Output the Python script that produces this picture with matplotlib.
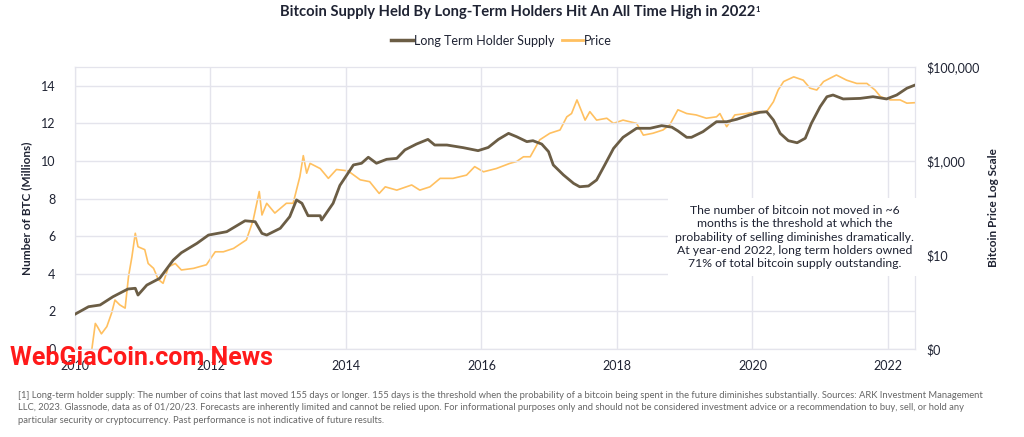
import numpy as np
import matplotlib.pyplot as plt
from matplotlib.ticker import FixedLocator

plt.rcParams['font.family'] = ['Lato', 'DejaVu Sans']

# long term holder supply (millions of BTC)
lth_year = [2010.0, 2010.2, 2010.37, 2010.56, 2010.78, 2010.89, 2010.93, 2011.06, 2011.25,
            2011.45, 2011.57, 2011.8, 2011.97, 2012.24, 2012.51, 2012.66, 2012.76, 2012.83,
            2013.03, 2013.17, 2013.27, 2013.35, 2013.44, 2013.62, 2013.64, 2013.81, 2013.91,
            2014.03, 2014.11, 2014.23, 2014.33, 2014.45, 2014.6, 2014.75, 2014.87, 2015.04,
            2015.21, 2015.31, 2015.49, 2015.73, 2015.95, 2016.1, 2016.25, 2016.4, 2016.52,
            2016.67, 2016.76, 2016.89, 2016.99, 2017.06, 2017.21, 2017.36, 2017.45, 2017.58,
            2017.7, 2017.82, 2017.95, 2018.09, 2018.29, 2018.49, 2018.66, 2018.81, 2018.9,
            2019.03, 2019.1, 2019.27, 2019.47, 2019.62, 2019.77, 2019.96, 2020.11, 2020.21,
            2020.31, 2020.41, 2020.53, 2020.66, 2020.78, 2020.87, 2021.0, 2021.1, 2021.19,
            2021.34, 2021.59, 2021.78, 2021.98, 2022.13, 2022.28, 2022.4]
lth_supply = [1.85, 2.25, 2.34, 2.78, 3.19, 3.23, 2.87, 3.4, 3.76,
              4.73, 5.12, 5.62, 6.06, 6.24, 6.82, 6.77, 6.15, 6.06,
              6.42, 7.04, 7.93, 7.75, 7.09, 7.09, 6.86, 7.75, 8.7,
              9.35, 9.79, 9.88, 10.2, 9.88, 10.09, 10.14, 10.59, 10.9,
              11.15, 10.85, 10.85, 10.71, 10.55, 10.72, 11.15, 11.47, 11.29,
              11.03, 11.08, 10.9, 10.5, 9.79, 9.26, 8.81, 8.63, 8.67,
              8.99, 9.79, 10.67, 11.26, 11.74, 11.74, 11.88, 11.8, 11.6,
              11.26, 11.26, 11.56, 12.09, 12.09, 12.22, 12.45, 12.59, 12.62,
              12.18, 11.47, 11.08, 10.97, 11.21, 12.0, 12.89, 13.42, 13.51,
              13.3, 13.33, 13.42, 13.3, 13.51, 13.87, 14.04]

# bitcoin price (USD, log axis)
price_year = [2010.24, 2010.3, 2010.33, 2010.39, 2010.47, 2010.54, 2010.59, 2010.66, 2010.74,
              2010.79, 2010.84, 2010.89, 2010.93, 2011.03, 2011.08, 2011.16, 2011.23, 2011.3,
              2011.38, 2011.48, 2011.57, 2011.75, 2011.94, 2012.07, 2012.19, 2012.34, 2012.53,
              2012.63, 2012.72, 2012.76, 2012.83, 2012.95, 2013.12, 2013.22, 2013.32, 2013.37,
              2013.42, 2013.47, 2013.62, 2013.74, 2013.86, 2014.03, 2014.21, 2014.35, 2014.49,
              2014.58, 2014.75, 2014.97, 2015.09, 2015.24, 2015.39, 2015.58, 2015.78, 2015.9,
              2016.03, 2016.22, 2016.42, 2016.52, 2016.62, 2016.72, 2016.86, 2017.01, 2017.16,
              2017.26, 2017.33, 2017.41, 2017.48, 2017.53, 2017.6, 2017.7, 2017.85, 2017.95,
              2018.09, 2018.29, 2018.39, 2018.53, 2018.68, 2018.78, 2018.9, 2019.03, 2019.17,
              2019.32, 2019.47, 2019.52, 2019.62, 2019.74, 2019.91, 2020.06, 2020.21, 2020.31,
              2020.38, 2020.46, 2020.61, 2020.75, 2020.85, 2020.95, 2021.05, 2021.24, 2021.39,
              2021.54, 2021.69, 2021.81, 2021.89, 2022.03, 2022.18, 2022.28, 2022.4]
price_usd = [0.08, 0.35, 0.3, 0.21, 0.3, 0.58, 1.1, 0.87, 0.74,
             3.5, 9.1, 29, 15, 13, 6.6, 5.2, 3.0, 2.5,
             5.6, 6.6, 4.8, 5.2, 6.2, 11.7, 11.7, 13.8, 21,
             55, 224, 71, 126, 78, 126, 126, 468, 1300,
             550, 890, 690, 427, 660, 617, 398, 363, 204,
             282, 240, 309, 240, 282, 427, 427, 501, 759,
             589, 692, 891, 977, 1230, 1230, 2818, 3890, 4571,
             8710, 10233, 19953, 11220, 7413, 11220, 7413, 8128, 6310,
             7413, 6310, 3548, 3890, 4571, 5888, 12300, 10233, 9550,
             8128, 8710, 10233, 5370, 9550, 10233, 11220, 11220, 18200,
             32360, 49000, 61660, 52480, 35480, 32360, 49000, 67600, 52480,
             44670, 44670, 32360, 23440, 19950, 19950, 17000, 17400]

year_ticks = [2010, 2012, 2014, 2016, 2018, 2020, 2022]
supply_ticks = [0, 2, 4, 6, 8, 10, 12, 14]
price_ticks = [0.1, 10, 1000, 100000]
price_labels = ['$0', '$10', '$1,000', '$100,000']

brown = '#6b5d45'
orange = '#ffc060'
grid_c = '#e4e4ec'
text_c = '#1f2333'

fig = plt.figure(figsize=(10.24, 4.37), dpi=100)
ax = fig.add_axes([75 / 1024, 1 - 349 / 437, 840 / 1024, 282 / 437])
ax2 = ax.twinx()

ax.set_xlim(2010, 2022.4)
ax.set_ylim(0, 15)
ax2.set_ylim(0.1, 100000)
ax2.set_yscale('log')

ax2.plot(price_year, price_usd, color=orange, lw=1.2, zorder=2)
ax.plot(lth_year, lth_supply, color=brown, lw=2, zorder=3)
ax.set_zorder(ax2.get_zorder() + 1)
ax.patch.set_visible(False)

ax.set_xticks(year_ticks)
ax.set_yticks(supply_ticks)
ax.grid(True, color=grid_c, lw=1)
ax.set_axisbelow(True)
ax2.yaxis.set_major_locator(FixedLocator(price_ticks))
ax2.set_yticklabels(price_labels)
ax2.yaxis.set_minor_locator(FixedLocator([]))

for a in (ax, ax2):
    for s in a.spines.values():
        s.set_color(grid_c)
    a.tick_params(length=0, labelsize=9, colors=text_c)
ax.tick_params(axis='x', pad=8)
ax.tick_params(axis='y', pad=14)
ax2.tick_params(axis='y', pad=8)

ax.set_ylabel('Number of BTC (Millions)', fontsize=8.5, fontweight='bold', color=text_c, labelpad=6)
ax2.set_ylabel('Bitcoin Price Log Scale', fontsize=8.5, fontweight='bold', color=text_c, labelpad=6)

title = fig.text(0.506, 0.972, 'Bitcoin Supply Held By Long-Term Holders Hit An All Time High in 2022',
                 ha='center', va='center', fontsize=10.6, fontweight='bold', color=text_c)
ax.annotate('1', xy=(1.0, 0.95), xycoords=title, ha='left', va='top', fontsize=5.5,
            fontweight='bold', color=text_c, annotation_clip=False)

# legend
l1, = ax.plot([], [], color=brown, lw=2.5, label='Long Term Holder Supply')
l2, = ax.plot([], [], color=orange, lw=2, label='Price')
fig.legend(handles=[l1, l2], loc='center', bbox_to_anchor=(0.49, 0.907), ncol=2, frameon=False,
           fontsize=9, handlelength=1.7, handletextpad=0.1, columnspacing=0.6, labelcolor=text_c)

note = ('The number of bitcoin not moved in ~6\n'
        'months is the threshold at which the\n'
        'probability of selling diminishes dramatically.\n'
        'At year-end 2022, long term holders owned\n'
        '71% of total bitcoin supply outstanding.')
ax.text(2020.62, 5.95, note, ha='center', va='center', fontsize=8.8, color=text_c,
        linespacing=1.25, zorder=5,
        bbox=dict(facecolor='white', edgecolor='none', pad=5))

foot = ('[1] Long-term holder supply: The number of coins that last moved 155 days or longer. 155 days is the threshold when the probability of a bitcoin being spent in the future diminishes substantially. Sources: ARK Investment Management\n'
        'LLC, 2023. Glassnode, data as of 01/20/23. Forecasts are inherently limited and cannot be relied upon. For informational purposes only and should not be considered investment advice or a recommendation to buy, sell, or hold any\n'
        'particular security or cryptocurrency. Past performance is not indicative of future results.')
fig.text(18 / 1024, 1 - 391 / 437, foot, ha='left', va='top', fontsize=6.75, color='#666666',
         linespacing=1.5)

fig.text(10 / 1024, 1 - 358 / 437, 'WebGiaCoin.com News', ha='left', va='center', fontsize=18,
         fontweight='bold', color='#ff1a1a', family='Roboto', zorder=10)

fig.savefig('out.png', dpi=100)
